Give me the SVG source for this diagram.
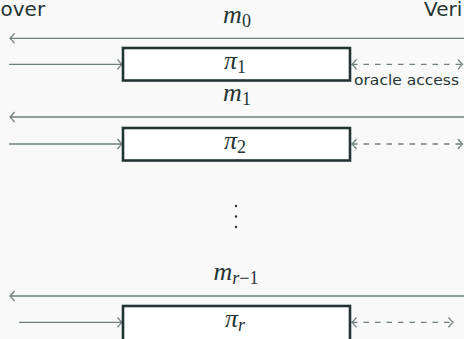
<svg xmlns="http://www.w3.org/2000/svg" width="464" height="339" viewBox="0 0 464 339">
<defs>
<style>
.bg{fill:#f9f9f9}
.ln{stroke:#6f7e7e;stroke-width:1.3;fill:none}
.dash{stroke:#6f7e7e;stroke-width:1.3;fill:none;stroke-dasharray:5.5 6}
.box{fill:#ffffff;stroke:#223333;stroke-width:2.6}
.lbl{font-family:"DejaVu Sans","Liberation Sans",sans-serif;fill:#253434}
.math{font-family:"Liberation Serif","DejaVu Serif",serif;fill:#253434;font-size:26px}
.it{font-style:italic}
.sub{font-size:18px;font-style:normal}
.sub.it,.sub .it{font-style:italic}
</style>
<marker id="ah" viewBox="-7 -6 9 12" markerUnits="userSpaceOnUse" markerWidth="9" markerHeight="12" refX="0" refY="0" orient="auto-start-reverse" overflow="visible">
<path d="M -4.5,-5 Q -1.5,-1.3 0,0 Q -1.5,1.3 -4.5,5" fill="none" stroke="#6f7e7e" stroke-width="1.3" stroke-dasharray="none"/>
</marker>
</defs>
<rect class="bg" x="0" y="0" width="464" height="339"/>
<g id="prover"><text class="lbl" x="0.5" y="16" font-size="20">over</text></g>
<g id="verifier"><text class="lbl" x="424" y="15.5" font-size="20">Veri</text></g>
<g id="connectors">
<line class="ln" x1="464" y1="38.3" x2="10" y2="38.3" marker-end="url(#ah)"/>
<line class="ln" x1="9" y1="64.3" x2="122" y2="64.3" marker-end="url(#ah)"/>
<line class="dash" x1="352" y1="64.3" x2="462.5" y2="64.3" marker-start="url(#ah)" marker-end="url(#ah)"/>
<line class="ln" x1="464" y1="117" x2="10" y2="117" marker-end="url(#ah)"/>
<line class="ln" x1="9" y1="144" x2="122" y2="144" marker-end="url(#ah)"/>
<line class="dash" x1="352" y1="144" x2="462.5" y2="144" marker-start="url(#ah)" marker-end="url(#ah)"/>
<line class="ln" x1="464" y1="296" x2="10" y2="296" marker-end="url(#ah)"/>
<line class="ln" x1="19" y1="322.3" x2="122" y2="322.3" marker-end="url(#ah)"/>
<line class="dash" x1="352" y1="322.3" x2="453" y2="322.3" marker-start="url(#ah)" marker-end="url(#ah)"/>
</g>
<g id="msg0"><text class="math" x="237" y="23" text-anchor="middle"><tspan class="it">m</tspan><tspan class="sub" dy="3.5">0</tspan></text></g>
<g id="pi1">
<rect class="box" x="123" y="48" width="227" height="32.5"/>
<text class="math" x="235" y="69" text-anchor="middle"><tspan class="it">π</tspan><tspan class="sub" dy="4">1</tspan></text>
</g>
<g id="oracle"><text class="lbl" x="354" y="85" font-size="14.5" textLength="105" lengthAdjust="spacingAndGlyphs">oracle access</text></g>
<g id="msg1"><text class="math" x="237" y="101" text-anchor="middle"><tspan class="it">m</tspan><tspan class="sub" dy="4">1</tspan></text></g>
<g id="pi2">
<rect class="box" x="123" y="128" width="227" height="32.5"/>
<text class="math" x="235" y="149" text-anchor="middle"><tspan class="it">π</tspan><tspan class="sub" dy="4">2</tspan></text>
</g>
<g id="dots" fill="#253434">
<circle cx="236" cy="206" r="1.2"/>
<circle cx="236" cy="216.5" r="1.2"/>
<circle cx="236" cy="227" r="1.2"/>
</g>
<g id="msgr"><text class="math" x="236" y="280" text-anchor="middle"><tspan class="it">m</tspan><tspan class="sub" dy="4"><tspan class="it">r</tspan>−1</tspan></text></g>
<g id="pir">
<rect class="box" x="123" y="306" width="227" height="40"/>
<text class="math" x="235" y="327" text-anchor="middle"><tspan class="it">π</tspan><tspan class="sub it" dy="4">r</tspan></text>
</g>
</svg>
